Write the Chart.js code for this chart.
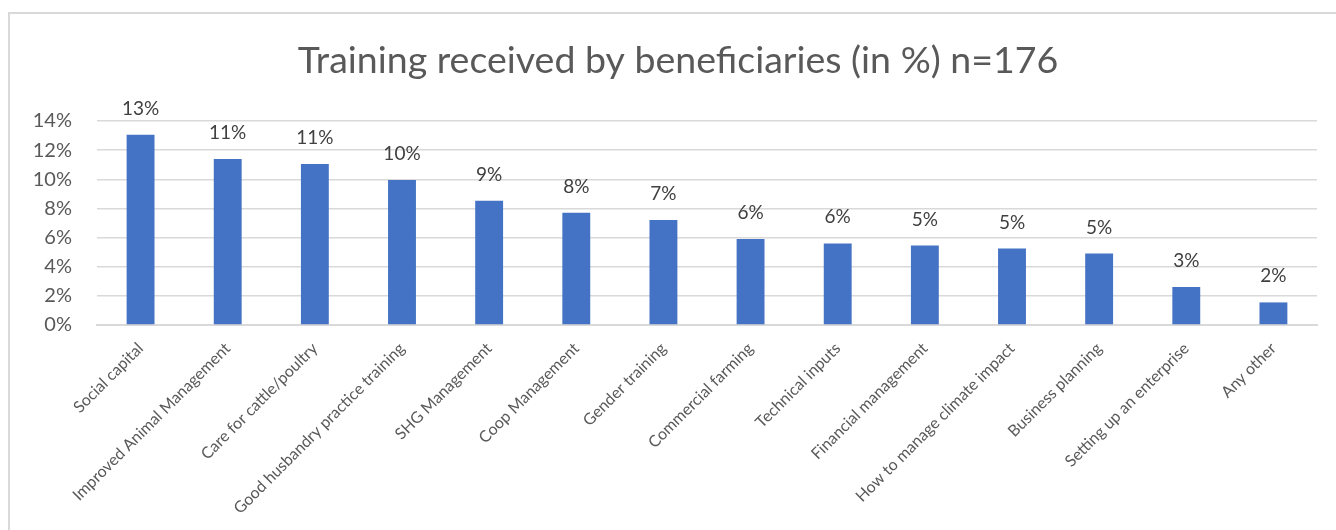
<!DOCTYPE html>
<html>
<head>
<meta charset="utf-8">
<title>Training received by beneficiaries</title>
<script src="https://cdn.jsdelivr.net/npm/chart.js@4/dist/chart.umd.min.js"></script>
<style>
  html, body { margin: 0; padding: 0; background: #ffffff; }
  #wrap { position: relative; width: 1336px; height: 530px; }
</style>
</head>
<body>
<div id="wrap"><canvas id="chart" width="1336" height="530"></canvas></div>
<script>
// Training topics (x axis categories)
const categories = [
  'Social capital',
  'Improved Animal Management',
  'Care for cattle/poultry',
  'Good husbandry practice training',
  'SHG Management',
  'Coop Management',
  'Gender training',
  'Commercial farming',
  'Technical inputs',
  'Financial management',
  'How to manage climate impact',
  'Business planning',
  'Setting up an enterprise',
  'Any other'
];

// Share of beneficiaries who received each training (%)
const sharePercent = [13.05, 11.4, 11.05, 9.95, 8.52, 7.7, 7.2, 5.9, 5.6, 5.45, 5.25, 4.9, 2.6, 1.55];

// Value axis ticks (%)
const yTicks = [0, 2, 4, 6, 8, 10, 12, 14];

const chartTitle = 'Training received by beneficiaries (in %) n=176';

const FONT = 'Lato, "Open Sans", sans-serif';

// White background, light frame and the chart title
const framePlugin = {
  id: 'frame',
  beforeDraw(chart) {
    const ctx = chart.ctx;
    ctx.save();
    ctx.fillStyle = '#ffffff';
    ctx.fillRect(0, 0, chart.width, chart.height);
    ctx.strokeStyle = '#d9d9d9';
    ctx.lineWidth = 2;
    ctx.strokeRect(9, 13, chart.width + 20, chart.height + 20);
    ctx.font = '37.5px ' + FONT;
    ctx.fillStyle = '#595959';
    ctx.textAlign = 'center';
    ctx.textBaseline = 'alphabetic';
    ctx.fillText(chartTitle, 678, 73);
    ctx.restore();
  }
};

// Rounded percentage written above each bar
const valueLabelPlugin = {
  id: 'valueLabels',
  afterDatasetsDraw(chart) {
    const ctx = chart.ctx;
    const meta = chart.getDatasetMeta(0);
    const data = chart.data.datasets[0].data;
    ctx.save();
    ctx.font = '19px ' + FONT;
    ctx.fillStyle = '#404040';
    ctx.textAlign = 'center';
    ctx.textBaseline = 'alphabetic';
    meta.data.forEach((bar, i) => {
      ctx.fillText(Math.round(data[i]) + '%', bar.x, bar.y - 20);
    });
    ctx.restore();
  }
};

new Chart(document.getElementById('chart'), {
  type: 'bar',
  data: {
    labels: categories,
    datasets: [{
      data: sharePercent,
      backgroundColor: '#4472c4',
      borderWidth: 0,
      barPercentage: 0.64,
      categoryPercentage: 0.5
    }]
  },
  options: {
    responsive: false,
    animation: false,
    layout: { padding: { left: 0, right: 19, top: 121, bottom: 0 } },
    plugins: {
      legend: { display: false },
      tooltip: { enabled: false },
      title: { display: false }
    },
    scales: {
      x: {
        grid: { display: false },
        border: { display: true, color: '#d9d9d9', width: 2 },
        ticks: {
          color: '#595959',
          font: { family: FONT, size: 16 },
          maxRotation: 45,
          minRotation: 45,
          autoSkip: false,
          padding: 6
        },
        afterFit(scale) { scale.height = 205; }
      },
      y: {
        min: 0,
        max: 14,
        afterBuildTicks(scale) {
          scale.ticks = yTicks.map(v => ({ value: v }));
        },
        grid: {
          color: '#d9d9d9',
          lineWidth: 1.5,
          drawTicks: false
        },
        border: { display: false },
        ticks: {
          color: '#595959',
          font: { family: FONT, size: 20 },
          padding: 25,
          callback: v => v + '%'
        },
        afterFit(scale) { scale.width = 97; }
      }
    }
  },
  plugins: [framePlugin, valueLabelPlugin]
});
</script>
</body>
</html>
